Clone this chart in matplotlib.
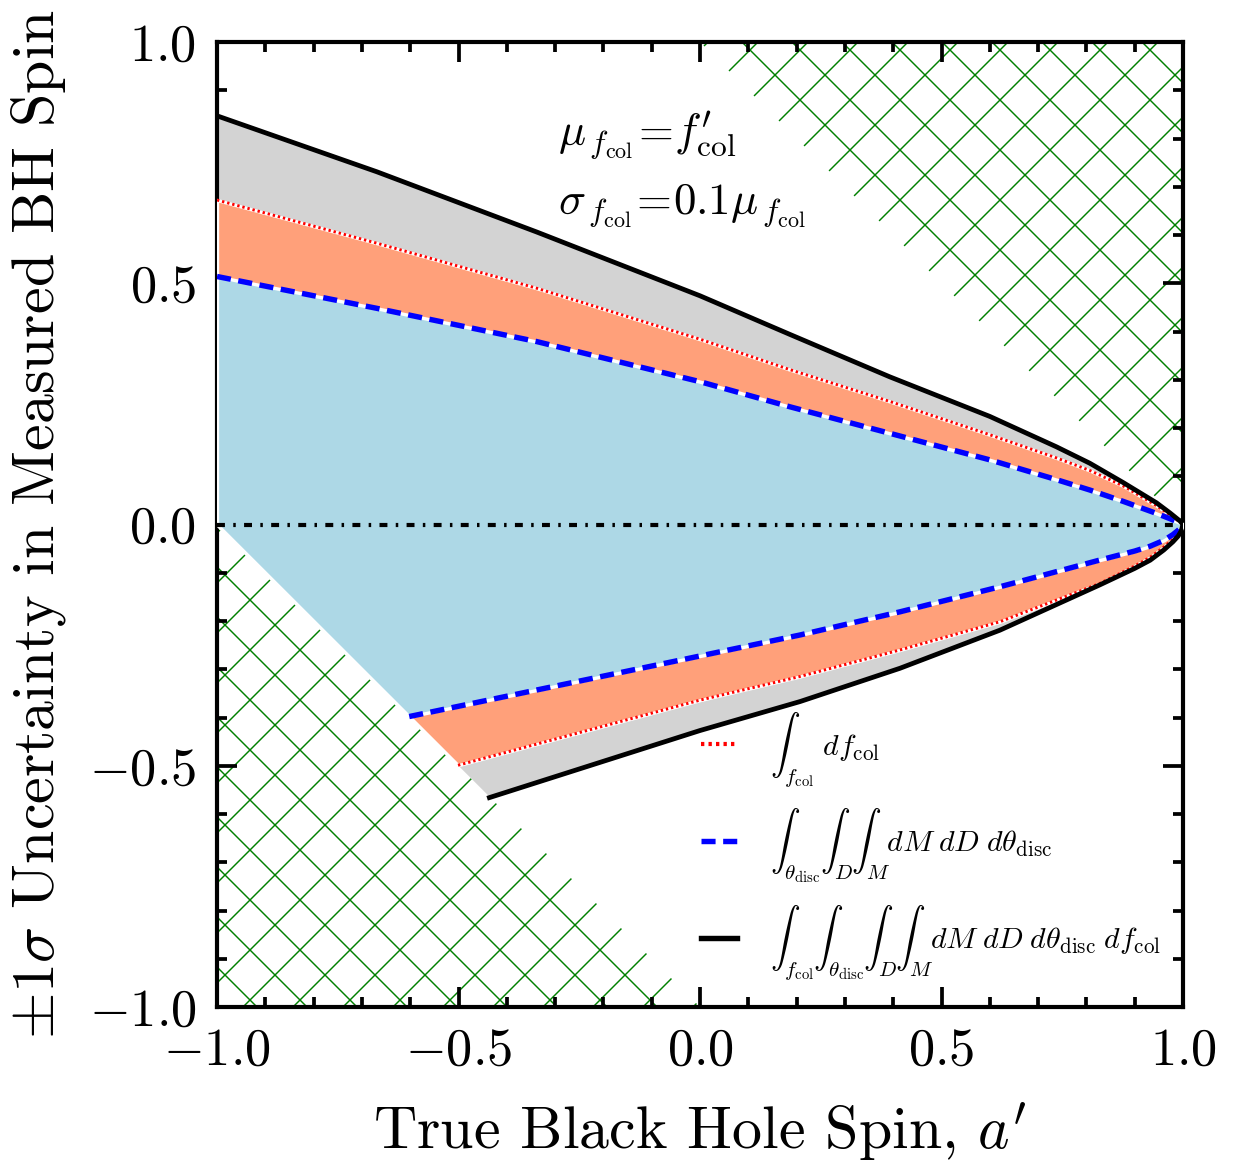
import numpy as np
import matplotlib
matplotlib.use("Agg")
import matplotlib.pyplot as plt
from matplotlib.ticker import MultipleLocator

plt.rcParams['font.family'] = 'serif'
plt.rcParams['font.serif'] = ['cmr10']
plt.rcParams['mathtext.fontset'] = 'cm'
plt.rcParams['axes.formatter.use_mathtext'] = True
plt.rcParams['hatch.linewidth'] = 0.35

# ---- data ----
x_up = [-1.0, -0.669, -0.3375, 0.0, 0.186, 0.393, 0.600, 0.738, 0.807, 0.876, 0.945, 0.973, 0.994, 1.0]
black_up = [0.847, 0.731, 0.606, 0.474, 0.394, 0.306, 0.224, 0.161, 0.127, 0.087, 0.045, 0.024, 0.007, 0.0]
red_up   = [0.6725, 0.583, 0.4895, 0.384, 0.321, 0.255, 0.186, 0.138, 0.112, 0.080, 0.039, 0.020, 0.005, 0.0]
blue_up  = [0.514, 0.448, 0.379, 0.296, 0.244, 0.189, 0.134, 0.093, 0.0715, 0.048, 0.023, 0.012, 0.003, 0.0]

x_lo_black = [-0.436, 0.0, 0.207, 0.414, 0.621, 0.828, 0.9, 0.932, 0.96, 0.979, 0.99, 0.996, 1.0]
black_lo   = [-0.566, -0.427, -0.367, -0.298, -0.219, -0.125, -0.091, -0.074, -0.053, -0.036, -0.024, -0.014, 0.0]
x_lo_red   = [-0.501, 0.0, 0.207, 0.414, 0.621, 0.828, 0.9, 0.932, 0.96, 0.979, 0.99, 0.996, 1.0]
red_lo     = [-0.499, -0.364, -0.315, -0.260, -0.2015, -0.122, -0.086, -0.068, -0.047, -0.031, -0.019, -0.010, 0.0]
x_lo_blue  = [-0.602, 0.0, 0.207, 0.414, 0.621, 0.828, 0.9, 0.932, 0.96, 0.979, 0.99, 0.996, 1.0]
blue_lo    = [-0.398, -0.2725, -0.229, -0.181, -0.129, -0.0736, -0.055, -0.045, -0.033, -0.021, -0.012, -0.006, 0.0]

legend_labels = [
    r'$\int_{f_{\rm col}}\ df_{\rm col}$',
    r'$\int_{\theta_{\rm disc}}\int_{D}\int_{M} dM\;dD\;d\theta_{\rm disc}$',
    r'$\int_{f_{\rm col}}\int_{\theta_{\rm disc}}\int_{D}\int_{M} dM\;dD\;d\theta_{\rm disc}\;df_{\rm col}$',
]

fig = plt.figure(figsize=(1233/300, 1163/300), dpi=300)
ax = fig.add_axes([217/1233, 1 - 1007/1163, (1183-217)/1233, (1007-42)/1163])

xs = np.linspace(-1, 1, 4001)
limit_lo = -1 - xs   # a' - sigma >= -1
limit_hi = 1 - xs    # a' + sigma <= 1

# physically excluded regions (hatched)
m_lo = xs <= 0
ax.fill_between(xs[m_lo], -1, limit_lo[m_lo], facecolor='none', edgecolor='green',
                hatch='xx', linewidth=0, zorder=1)
m_hi = xs >= 0
ax.fill_between(xs[m_hi], limit_hi[m_hi], 1, facecolor='none', edgecolor='green',
                hatch='xx', linewidth=0, zorder=1)

def band(xu, yu, xl, yl):
    up = np.interp(xs, xu, yu)
    lo = np.maximum(np.interp(xs, xl, yl), limit_lo)
    return up, lo

bu, bl = band(x_up, black_up, x_lo_black, black_lo)
ru, rl = band(x_up, red_up, x_lo_red, red_lo)
lu, ll = band(x_up, blue_up, x_lo_blue, blue_lo)

ax.fill_between(xs, bl, bu, facecolor='lightgray', edgecolor='none', zorder=2)
ax.fill_between(xs, rl, ru, facecolor='lightsalmon', edgecolor='white', linewidth=0.8, zorder=3)
ax.fill_between(xs, ll, lu, facecolor='lightblue', edgecolor='white', linewidth=0.8, zorder=4)

# zero line
ax.plot([-1, 1], [0, 0], color='black', lw=1.0, dashes=[1.9, 2.0, 0.6, 2.0], zorder=5)

# curves
ln_r, = ax.plot(x_up, red_up, color='red', lw=0.7, dashes=[0.8, 1.0], zorder=6)
ax.plot(x_lo_red, red_lo, color='red', lw=0.7, dashes=[0.8, 1.0], zorder=6)
ln_b, = ax.plot(x_up, blue_up, color='blue', lw=1.3, dashes=[2.6, 1.4], zorder=6)
ax.plot(x_lo_blue, blue_lo, color='blue', lw=1.3, dashes=[2.6, 1.4], zorder=6)
ln_k, = ax.plot(x_up, black_up, color='black', lw=1.15, zorder=7)
ax.plot(x_lo_black, black_lo, color='black', lw=1.15, zorder=7)

ax.set_xlim(-1, 1)
ax.set_ylim(-1, 1)
ax.xaxis.set_major_locator(MultipleLocator(0.5))
ax.yaxis.set_major_locator(MultipleLocator(0.5))
ax.xaxis.set_minor_locator(MultipleLocator(0.1))
ax.yaxis.set_minor_locator(MultipleLocator(0.1))
ax.tick_params(which='both', direction='in', top=True, right=True, width=0.9)
ax.tick_params(which='major', length=4.8, labelsize=12.6, pad=5)
ax.tick_params(which='minor', length=2.4)
for s in ax.spines.values():
    s.set_linewidth(1.0)

ax.set_xlabel(r"True Black Hole Spin, $a'$", fontsize=14.4, labelpad=6.2)
ax.set_ylabel(r'$\pm 1\sigma$ Uncertainty in Measured BH Spin', fontsize=14.4, labelpad=5)

ax.text(-0.295, 0.808, r'$\mu_{\,f_{\rm col}}\!=\!f^{\prime}_{\rm col}$', fontsize=10.8,
        va='center', ha='left', zorder=8)
ax.text(-0.295, 0.662, r'$\sigma_{\,f_{\rm col}}\!=\!0.1\mu_{\,f_{\rm col}}$', fontsize=10.8,
        va='center', ha='left', zorder=8)

leg = ax.legend([ln_r, ln_b, ln_k], legend_labels, loc='upper left',
                bbox_to_anchor=(0.473, 0.336), frameon=False, fontsize=7.2,
                handlelength=1.2, handletextpad=1.1, labelspacing=0.6,
                borderpad=0.4, borderaxespad=0.5)
leg_lines = leg.get_lines()
leg_lines[0].set_linewidth(1.0)
leg_lines[2].set_linewidth(1.3)

fig.savefig('out.png', dpi=300)
